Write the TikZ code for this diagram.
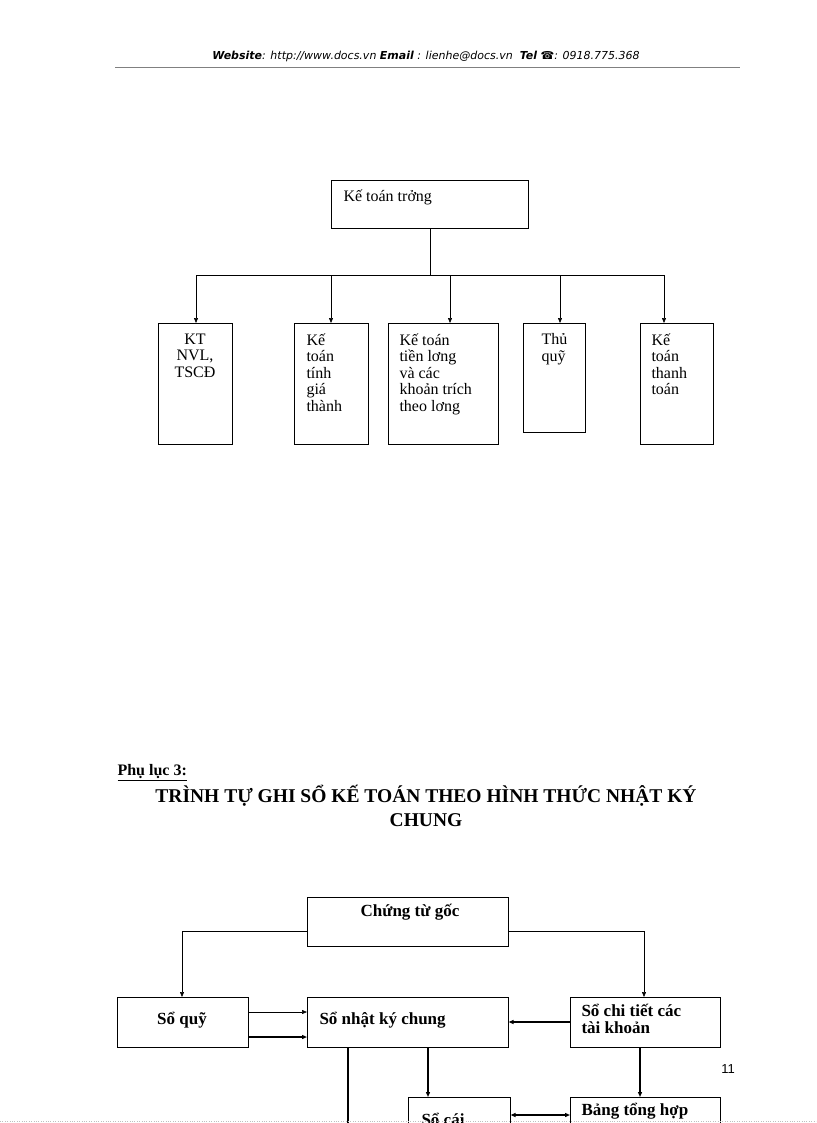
\documentclass[tikz,border=0pt]{standalone}
\usepackage{fontspec}
\setmainfont{Liberation Serif}
\newfontfamily\hdr{DejaVu Sans}
\newfontfamily\pn{Liberation Sans}
\usetikzlibrary{arrows.meta}
\begin{document}
\begin{tikzpicture}[x=1pt,y=-1pt,
 bx/.style={draw,line width=0.6pt,inner sep=0pt},
 ar/.style={-{Triangle[length=5pt,width=4pt]},line width=0.6pt},
 thk/.style={-{Triangle[length=5pt,width=4pt]},line width=1.6pt},
 tx/.style={font=\fontsize{16}{16.5}\selectfont,align=left,anchor=north west},
 bt/.style={font=\bfseries\fontsize{17}{17}\selectfont}]
\useasboundingbox (0,0) rectangle (816,1123);
\clip (0,0) rectangle (816,1123);
\node[font=\hdr\itshape\fontsize{11}{11}\selectfont] (h) at (426,56) {\textbf{Website}: http://www.docs.vn \textbf{Email} : lienhe@docs.vn \ \textbf{Tel} ☎: 0918.775.368};
\draw[gray,line width=0.6pt] (115,67) -- (740,67);
% top chart
\node[bx,minimum width=197pt,minimum height=48pt,anchor=north west] (kt) at (331,180) {};
\node[tx] at (340,186) {Kế toán trởng};
\coordinate (j) at (430,275);
\draw[line width=0.6pt] (kt.south -| j) -- (j);
\draw[line width=0.6pt] (196,275) -- (664,275);
\node[bx,minimum width=74pt,minimum height=121pt,anchor=north west] (b1) at (158,323) {};
\node[bx,minimum width=74pt,minimum height=121pt,anchor=north west] (b2) at (294,323) {};
\node[bx,minimum width=110pt,minimum height=121pt,anchor=north west] (b3) at (388,323) {};
\node[bx,minimum width=62pt,minimum height=109pt,anchor=north west] (b4) at (523,323) {};
\node[bx,minimum width=73pt,minimum height=121pt,anchor=north west] (b5) at (640,323) {};
\foreach \n/\x in {b1/196,b2/331,b3/450,b4/560,b5/664} \draw[ar] (\x,275) -- (\x,323);
\node[font=\fontsize{16}{16.5}\selectfont,align=center,anchor=north] at (195,330) {KT\\NVL,\\TSCĐ};
\node[tx] at (303,330) {Kế\\toán\\tính\\giá\\thành};
\node[tx] at (396,330) {Kế toán\\tiền lơng\\và các\\khoản trích\\theo lơng};
\node[tx] at (538,330) {Thủ\\quỹ};
\node[tx] at (648,330) {Kế\\toán\\thanh\\toán};
% bottom
\node[font=\bfseries\fontsize{16}{16}\selectfont,anchor=west] (pl) at (114,773) {\underline{Phụ lục 3:}};
\node[font=\bfseries\fontsize{19.5}{24}\selectfont,align=center] (ti) at (426,806) {TRÌNH TỰ GHI SỔ KẾ TOÁN THEO HÌNH THỨC NHẬT KÝ\\CHUNG};
\node[bx,minimum width=201pt,minimum height=49pt,anchor=north west] (ct) at (307,897) {};
\node[bt] at (410,912) {Chứng từ gốc};
\node[bx,minimum width=131pt,minimum height=50pt,anchor=north west] (sq) at (117,997) {};
\node[bt] at (182,1020) {Sổ quỹ};
\node[bx,minimum width=201pt,minimum height=50pt,anchor=north west] (nk) at (307,997) {};
\node[bt,anchor=west] at (316,1020) {Sổ nhật ký chung};
\node[bx,minimum width=150pt,minimum height=50pt,anchor=north west] (cti) at (570,997) {};
\node[bt,align=left,anchor=north west] at (578,1001) {Sổ chi tiết các\\tài khoản};
\node[bx,minimum width=102pt,minimum height=50pt,anchor=north west] (sc) at (408,1097) {};
\node[bt,anchor=west] at (418,1119) {Sổ cái};
\node[bx,minimum width=150pt,minimum height=50pt,anchor=north west] (bth) at (570,1097) {};
\node[bt,anchor=north west] at (578,1100) {Bảng tổng hợp};
\draw[ar] (ct.west |- 0,931) -| (sq.north -| 182,0);
\draw[ar] (ct.east |- 0,931) -| (cti.north -| 644,0);
\draw[ar] (sq.east |- 0,1012) -- (nk.west |- 0,1012);
\draw[thk] (sq.east |- 0,1037) -- (nk.west |- 0,1037);
\draw[thk] (cti.west |- 0,1022) -- (nk.east |- 0,1022);
\draw[thk] (nk.south -| 428,0) -- (sc.north -| 428,0);
\draw[thk] (cti.south -| 640,0) -- (bth.north -| 640,0);
\draw[line width=1.2pt] (nk.south -| 348,0) -- (348,1123);
\draw[{Triangle[length=5pt,width=4pt]}-{Triangle[length=5pt,width=4pt]},line width=1.2pt] (sc.east |- 0,1115) -- (bth.west |- 0,1115);
\node[font=\pn\fontsize{13}{13}\selectfont] (pg) at (728,1069) {11};
\draw[gray!50,dotted] (0,1121) -- (816,1121);
\end{tikzpicture}
\end{document}
